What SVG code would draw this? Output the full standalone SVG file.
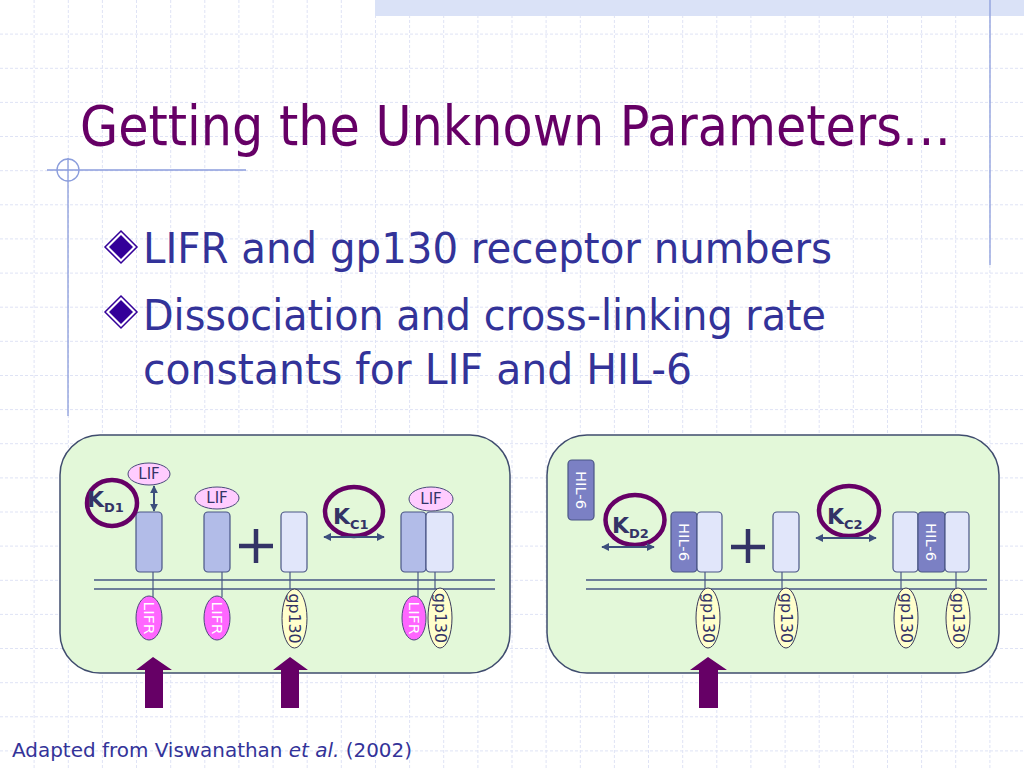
<svg xmlns="http://www.w3.org/2000/svg" width="1024" height="768" viewBox="0 0 1024 768">
<defs>
<style>
.grid{stroke:#dfe3f5;stroke-width:1;stroke-dasharray:3 2;fill:none}
.deco{stroke:#8b9ddc;stroke-width:1.3;fill:none}
.panel{fill:#e3f8d9;stroke:#3f4c6e;stroke-width:1.5}
.mem{stroke:#475784;stroke-width:1.4}
.stem{stroke:#475784;stroke-width:1.2}
.rA{fill:#b2bce8;stroke:#4a5585;stroke-width:1.2}
.rB{fill:#e1e6fa;stroke:#4a5585;stroke-width:1.2}
.rH{fill:#7b80c4;stroke:#4a5585;stroke-width:1.2}
.lif{fill:#ffccff;stroke:#4a4a7a;stroke-width:1}
.lifr{fill:#ff66ff;stroke:#4a4a7a;stroke-width:1}
.gp{fill:#ffffcc;stroke:#3a3a5a;stroke-width:1}
.ring{fill:none;stroke:#660066;stroke-width:4.5}
.dbl{stroke:#3d4f7d;stroke-width:2;marker-start:url(#ah);marker-end:url(#ah)}
.plus{stroke:#333366;stroke-width:4.5}
.big{fill:#660066}
.t{font-family:"DejaVu Sans","Liberation Sans",sans-serif}
.sm{font-size:15px;fill:#333366}
.wh{font-size:14px;fill:#ffffff}
.k{font-weight:bold;fill:#333366}
.bul{font-size:42px;fill:#333399}
</style>
<marker id="ah" viewBox="0 0 10 10" refX="9" refY="5" markerWidth="4" markerHeight="4" orient="auto-start-reverse" markerUnits="strokeWidth">
<path d="M0,0 L10,5 L0,10 z" fill="#3d4f7d"/>
</marker>
</defs>

<rect width="1024" height="768" fill="#ffffff"/>
<g id="grid">
<path class="grid" d="M34.1,0V768M68.3,0V768M102.4,0V768M136.5,0V768M170.7,0V768M204.8,0V768M238.9,0V768M273.1,0V768M307.2,0V768M341.3,0V768M375.5,0V768M409.6,0V768M443.7,0V768M477.9,0V768M512,0V768M546.1,0V768M580.3,0V768M614.4,0V768M648.5,0V768M682.7,0V768M716.8,0V768M750.9,0V768M785.1,0V768M819.2,0V768M853.3,0V768M887.5,0V768M921.6,0V768M955.7,0V768M989.9,0V768"/>
<path class="grid" d="M0,34.1H1024M0,68.3H1024M0,102.4H1024M0,136.5H1024M0,170.7H1024M0,204.8H1024M0,238.9H1024M0,273.1H1024M0,307.2H1024M0,341.3H1024M0,375.5H1024M0,409.6H1024M0,443.7H1024M0,477.9H1024M0,512H1024M0,546.1H1024M0,580.3H1024M0,614.4H1024M0,648.5H1024M0,682.7H1024M0,716.8H1024M0,750.9H1024"/>
</g>
<rect x="375" y="0" width="649" height="16" fill="#dae2f7"/>
<g id="decoration">
<line class="deco" x1="990" y1="0" x2="990" y2="265"/>
<line class="deco" x1="47" y1="170" x2="246" y2="170"/>
<line class="deco" x1="68" y1="158" x2="68" y2="416"/>
<circle class="deco" cx="68" cy="170" r="11"/>
</g>

<text id="title" class="t big" transform="translate(80,145) scale(0.88,1)" x="0" y="0" font-size="56">Getting the Unknown Parameters…</text>

<g id="bullets">
<g id="bullet1">
<polygon points="121,231 137,247 121,263 105,247" fill="#ffffff" stroke="#330099" stroke-width="1.5"/>
<polygon points="121,235 133,247 121,259 109,247" fill="#330099"/>
<text class="t bul" x="143" y="263" textLength="689" lengthAdjust="spacingAndGlyphs">LIFR and gp130 receptor numbers</text>
</g>
<g id="bullet2">
<polygon points="121,296 137,312 121,328 105,312" fill="#ffffff" stroke="#330099" stroke-width="1.5"/>
<polygon points="121,300 133,312 121,324 109,312" fill="#330099"/>
<text class="t bul" x="143" y="330" textLength="683" lengthAdjust="spacingAndGlyphs">Dissociation and cross-linking rate</text>
<text class="t bul" x="143" y="384" textLength="549" lengthAdjust="spacingAndGlyphs">constants for LIF and HIL-6</text>
</g>
</g>

<g id="panel-left">
<rect class="panel" x="60" y="435" width="450" height="238" rx="40"/>
<line class="mem" x1="94" y1="580" x2="495" y2="580"/>
<line class="mem" x1="94" y1="589" x2="495" y2="589"/>
</g>
<g id="panel-right">
<rect class="panel" x="547" y="435" width="452" height="238" rx="40"/>
<line class="mem" x1="586" y1="580" x2="987" y2="580"/>
<line class="mem" x1="586" y1="589" x2="987" y2="589"/>
</g>

<g id="lifr-1">
<line class="stem" x1="153" y1="572" x2="153" y2="597"/>
<rect class="rA" x="136" y="512" width="26" height="60" rx="4"/>
<ellipse class="lifr" cx="149" cy="618" rx="13" ry="22"/>
<text class="t wh" transform="translate(149,618) rotate(90)" text-anchor="middle" dy="0.36em" textLength="33" lengthAdjust="spacingAndGlyphs">LIFR</text>
<ellipse class="lif" cx="149" cy="474" rx="21" ry="11"/>
<text class="t sm" x="149" y="479" text-anchor="middle" font-size="14">LIF</text>
</g>
<g id="kd1">
<ellipse class="ring" cx="112" cy="503" rx="25" ry="23"/>
<text class="t k" x="87" y="507" font-size="22">K<tspan font-size="13" dy="5">D1</tspan></text>
</g>
<g id="lifr-2">
<line class="stem" x1="222" y1="572" x2="222" y2="597"/>
<rect class="rA" x="204" y="512" width="26" height="60" rx="4"/>
<ellipse class="lifr" cx="217" cy="618" rx="13" ry="22"/>
<text class="t wh" transform="translate(217,618) rotate(90)" text-anchor="middle" dy="0.36em" textLength="33" lengthAdjust="spacingAndGlyphs">LIFR</text>
<ellipse class="lif" cx="217" cy="498" rx="22" ry="11"/>
<text class="t sm" x="217" y="503" text-anchor="middle" font-size="14">LIF</text>
</g>
<g id="plus-1">
<line class="plus" x1="239" y1="546" x2="273" y2="546"/>
<line class="plus" x1="256" y1="529" x2="256" y2="563"/>
</g>
<g id="gp130-1">
<line class="stem" x1="290" y1="572" x2="290" y2="589"/>
<rect class="rB" x="281" y="512" width="26" height="60" rx="4"/>
<ellipse class="gp" cx="294.5" cy="618.5" rx="12.5" ry="29.5"/>
<text class="t sm" transform="translate(294.5,618.5) rotate(90)" text-anchor="middle" dy="0.36em" textLength="50" lengthAdjust="spacingAndGlyphs">gp130</text>
</g>
<g id="kc1">
<ellipse class="ring" cx="354" cy="511.5" rx="29" ry="24.5"/>
<text class="t k" x="333" y="524" font-size="22">K<tspan font-size="13" dy="5">C1</tspan></text>
</g>
<g id="complex-1">
<line class="stem" x1="418" y1="572" x2="418" y2="597"/>
<line class="stem" x1="435" y1="572" x2="435" y2="589"/>
<rect class="rA" x="401" y="512" width="25" height="60" rx="4"/>
<rect class="rB" x="426" y="512" width="27" height="60" rx="4"/>
<ellipse class="lifr" cx="414" cy="618" rx="12" ry="22"/>
<text class="t wh" transform="translate(414,618) rotate(90)" text-anchor="middle" dy="0.36em" textLength="33" lengthAdjust="spacingAndGlyphs">LIFR</text>
<ellipse class="gp" cx="440" cy="618" rx="12" ry="30"/>
<text class="t sm" transform="translate(440,618) rotate(90)" text-anchor="middle" dy="0.36em" textLength="50" lengthAdjust="spacingAndGlyphs">gp130</text>
<ellipse class="lif" cx="431" cy="499" rx="22" ry="12"/>
<text class="t sm" x="431" y="504" text-anchor="middle" font-size="14">LIF</text>
</g>

<g id="hil6-free">
<rect class="rH" x="568" y="460" width="26" height="60" rx="4"/>
<text class="t wh" transform="translate(581,490) rotate(90)" text-anchor="middle" dy="0.36em" textLength="38" lengthAdjust="spacingAndGlyphs">HIL-6</text>
</g>
<g id="kd2">
<ellipse class="ring" cx="635" cy="520" rx="29.5" ry="25"/>
<text class="t k" x="612" y="533" font-size="22">K<tspan font-size="13" dy="5">D2</tspan></text>
</g>
<g id="hil6-gp130">
<line class="stem" x1="705" y1="572" x2="705" y2="589"/>
<rect class="rH" x="671" y="512" width="26" height="60" rx="4"/>
<rect class="rB" x="697" y="512" width="25" height="60" rx="4"/>
<text class="t wh" transform="translate(684,542) rotate(90)" text-anchor="middle" dy="0.36em" textLength="38" lengthAdjust="spacingAndGlyphs">HIL-6</text>
<ellipse class="gp" cx="708" cy="618" rx="12" ry="30"/>
<text class="t sm" transform="translate(708,618) rotate(90)" text-anchor="middle" dy="0.36em" textLength="50" lengthAdjust="spacingAndGlyphs">gp130</text>
</g>
<g id="plus-2">
<line class="plus" x1="731" y1="547" x2="765" y2="547"/>
<line class="plus" x1="748" y1="529" x2="748" y2="563"/>
</g>
<g id="gp130-2">
<line class="stem" x1="782" y1="572" x2="782" y2="589"/>
<rect class="rB" x="773" y="512" width="26" height="60" rx="4"/>
<ellipse class="gp" cx="786" cy="618" rx="12" ry="30"/>
<text class="t sm" transform="translate(786,618) rotate(90)" text-anchor="middle" dy="0.36em" textLength="50" lengthAdjust="spacingAndGlyphs">gp130</text>
</g>
<g id="kc2">
<ellipse class="ring" cx="849" cy="511" rx="30" ry="25"/>
<text class="t k" x="827" y="524" font-size="22">K<tspan font-size="13" dy="5">C2</tspan></text>
</g>
<g id="complex-2">
<line class="stem" x1="901" y1="572" x2="901" y2="589"/>
<line class="stem" x1="956" y1="572" x2="956" y2="589"/>
<rect class="rB" x="893" y="512" width="25" height="60" rx="4"/>
<rect class="rH" x="918" y="512" width="27" height="60" rx="4"/>
<rect class="rB" x="945" y="512" width="24" height="60" rx="4"/>
<text class="t wh" transform="translate(931.5,542) rotate(90)" text-anchor="middle" dy="0.36em" textLength="38" lengthAdjust="spacingAndGlyphs">HIL-6</text>
<ellipse class="gp" cx="906" cy="618" rx="12" ry="30"/>
<text class="t sm" transform="translate(906,618) rotate(90)" text-anchor="middle" dy="0.36em" textLength="50" lengthAdjust="spacingAndGlyphs">gp130</text>
<ellipse class="gp" cx="958" cy="618" rx="12" ry="30"/>
<text class="t sm" transform="translate(958,618) rotate(90)" text-anchor="middle" dy="0.36em" textLength="50" lengthAdjust="spacingAndGlyphs">gp130</text>
</g>

<g id="connectors">
<line class="dbl" x1="154" y1="486" x2="154" y2="511"/>
<line class="dbl" x1="324" y1="537" x2="384" y2="537"/>
<line class="dbl" x1="602" y1="547" x2="654" y2="547"/>
<line class="dbl" x1="816" y1="538" x2="876" y2="538"/>
<polygon class="big" points="153,657 172,670 163,670 163,708 145,708 145,670 136,670"/>
<polygon class="big" points="290,657 308,670 299,670 299,708 281,708 281,670 273,670"/>
<polygon class="big" points="708,657 727,670 718,670 718,708 699,708 699,670 690,670"/>
</g>

<text id="footnote" class="t" x="12" y="757" font-size="20" fill="#333399" textLength="400" lengthAdjust="spacingAndGlyphs">Adapted from Viswanathan <tspan font-style="italic">et al.</tspan> (2002)</text>
</svg>
